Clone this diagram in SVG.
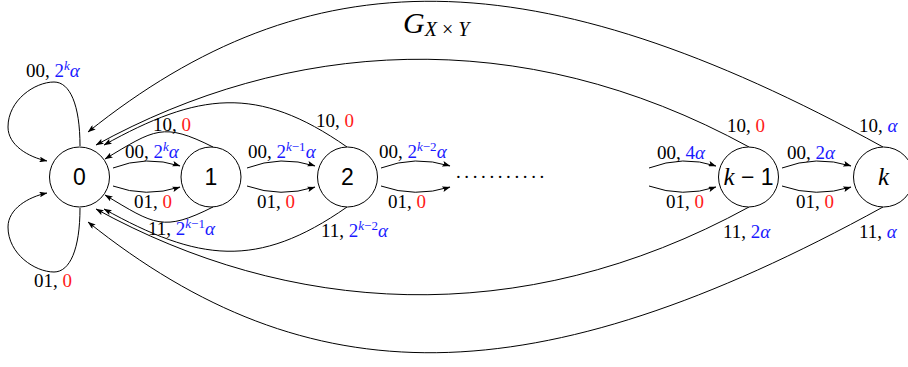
<svg xmlns="http://www.w3.org/2000/svg" width="908" height="367" viewBox="0 0 908 367">
<style>
.edge{fill:none;stroke:#000;stroke-width:1}
.arr{marker-end:url(#ah)}
.lbl{font-family:"Liberation Serif",serif;font-size:19px;fill:#000}
.b{fill:#1a1aff}
.r{fill:#ff1a1a}
.sup{font-size:13px}
.it{font-style:italic}
.node circle{fill:#fff;stroke:#000;stroke-width:1}
.nl{font-family:"Liberation Sans",sans-serif;font-size:23px;text-anchor:middle;fill:#000}
.nk{font-family:"Liberation Serif",serif;font-style:italic;font-size:25px;text-anchor:middle;fill:#000}
</style>
<defs>
<marker id="ah" markerUnits="userSpaceOnUse" viewBox="0 0 10 7" refX="9.5" refY="3.5" markerWidth="8" markerHeight="5.6" orient="auto">
<path d="M0,0 L10,3.5 L0,7 L2,3.5 z" fill="#000"/>
</marker>
</defs>

<text x="403" y="33" font-family="Liberation Serif, serif" font-size="30" font-style="italic">G<tspan font-size="20" dy="3">X<tspan font-style="normal"> × </tspan>Y</tspan></text>

<g id="connectors">
<path class="edge arr" d="M80 146 C80 105 70 82 54 82 C35 82 8 100 8 127 C8 145 28 157 47 161"/>
<path class="edge arr" d="M80 208 C80 249 70 272 54 272 C35 272 8 254 8 227 C8 209 28 197 47 193"/>
<path class="edge arr" d="M113 168 Q146 155 180 166"/>
<path class="edge arr" d="M113 186 Q146 198 180 187"/>
<path class="edge arr" d="M247 168 Q281 155 315 166"/>
<path class="edge arr" d="M247 186 Q281 198 315 187"/>
<path class="edge arr" d="M381 168 Q415 155 450 166"/>
<path class="edge arr" d="M381 186 Q415 198 450 187"/>
<path class="edge arr" d="M649 168 Q683 155 716 166"/>
<path class="edge arr" d="M649 186 Q683 198 716 187"/>
<path class="edge arr" d="M782 168 Q816 155 851 166"/>
<path class="edge arr" d="M782 186 Q816 198 851 187"/>
<path class="edge arr" d="M213 147 C163 122 155 129 105 159"/>
<path class="edge arr" d="M213 207 C163 232 155 225 105 195"/>
<path class="edge arr" d="M347 147 C257 84 198 92.75 104 145"/>
<path class="edge arr" d="M347 207 C257 270 198 261.25 104 209"/>
<path class="edge arr" d="M749 147 C518 20.5 286 40.5 96 145"/>
<path class="edge arr" d="M749 207 C518 333.5 286 313.5 96 209"/>
<path class="edge arr" d="M883 147 C533 -45.5 308 -44 88 132"/>
<path class="edge arr" d="M883 207 C533 399.5 308 398 88 222"/>
</g>

<g id="edge-labels">
<text class="lbl" x="26" y="77">00, <tspan class="b">2<tspan class="sup it" dy="-7">k</tspan><tspan class="it" dy="7">α</tspan></tspan></text>
<text class="lbl" x="34" y="287">01, <tspan class="r">0</tspan></text>
<text class="lbl" x="125" y="158">00, <tspan class="b">2<tspan class="sup it" dy="-7">k</tspan><tspan class="it" dy="7">α</tspan></tspan></text>
<text class="lbl" x="134" y="208">01, <tspan class="r">0</tspan></text>
<text class="lbl" x="153" y="131">10, <tspan class="r">0</tspan></text>
<text class="lbl" x="148" y="235">11, <tspan class="b">2<tspan class="sup" dy="-7"><tspan class="it">k</tspan>−1</tspan><tspan class="it" dy="7">α</tspan></tspan></text>
<text class="lbl" x="248" y="158">00, <tspan class="b">2<tspan class="sup" dy="-7"><tspan class="it">k</tspan>−1</tspan><tspan class="it" dy="7">α</tspan></tspan></text>
<text class="lbl" x="257" y="208">01, <tspan class="r">0</tspan></text>
<text class="lbl" x="316" y="127">10, <tspan class="r">0</tspan></text>
<text class="lbl" x="321" y="237">11, <tspan class="b">2<tspan class="sup" dy="-7"><tspan class="it">k</tspan>−2</tspan><tspan class="it" dy="7">α</tspan></tspan></text>
<text class="lbl" x="379" y="158">00, <tspan class="b">2<tspan class="sup" dy="-7"><tspan class="it">k</tspan>−2</tspan><tspan class="it" dy="7">α</tspan></tspan></text>
<text class="lbl" x="388" y="208">01, <tspan class="r">0</tspan></text>
<text class="lbl" x="456" y="178" letter-spacing="3.6">...........</text>
<text class="lbl" x="657" y="159">00, <tspan class="b">4<tspan class="it">α</tspan></tspan></text>
<text class="lbl" x="666" y="208">01, <tspan class="r">0</tspan></text>
<text class="lbl" x="727" y="132">10, <tspan class="r">0</tspan></text>
<text class="lbl" x="723" y="238">11, <tspan class="b">2<tspan class="it">α</tspan></tspan></text>
<text class="lbl" x="787" y="159">00, <tspan class="b">2<tspan class="it">α</tspan></tspan></text>
<text class="lbl" x="796" y="208">01, <tspan class="r">0</tspan></text>
<text class="lbl" x="859" y="132">10, <tspan class="b it">α</tspan></text>
<text class="lbl" x="859" y="238">11, <tspan class="b it">α</tspan></text>
</g>

<g id="node-0" class="node"><circle cx="79.5" cy="177" r="30"/><text class="nl" x="79.5" y="185">0</text></g>
<g id="node-1" class="node"><circle cx="211" cy="177" r="30"/><text class="nl" x="211" y="185">1</text></g>
<g id="node-2" class="node"><circle cx="347.5" cy="177" r="30"/><text class="nl" x="347.5" y="185">2</text></g>
<g id="node-k-1" class="node"><circle cx="748.5" cy="177" r="30"/><text class="nl" x="748.5" y="185"><tspan font-family="Liberation Serif, serif" font-style="italic" font-size="25">k</tspan> − 1</text></g>
<g id="node-k" class="node"><circle cx="883.5" cy="177" r="30"/><text class="nk" x="883.5" y="185">k</text></g>
</svg>
